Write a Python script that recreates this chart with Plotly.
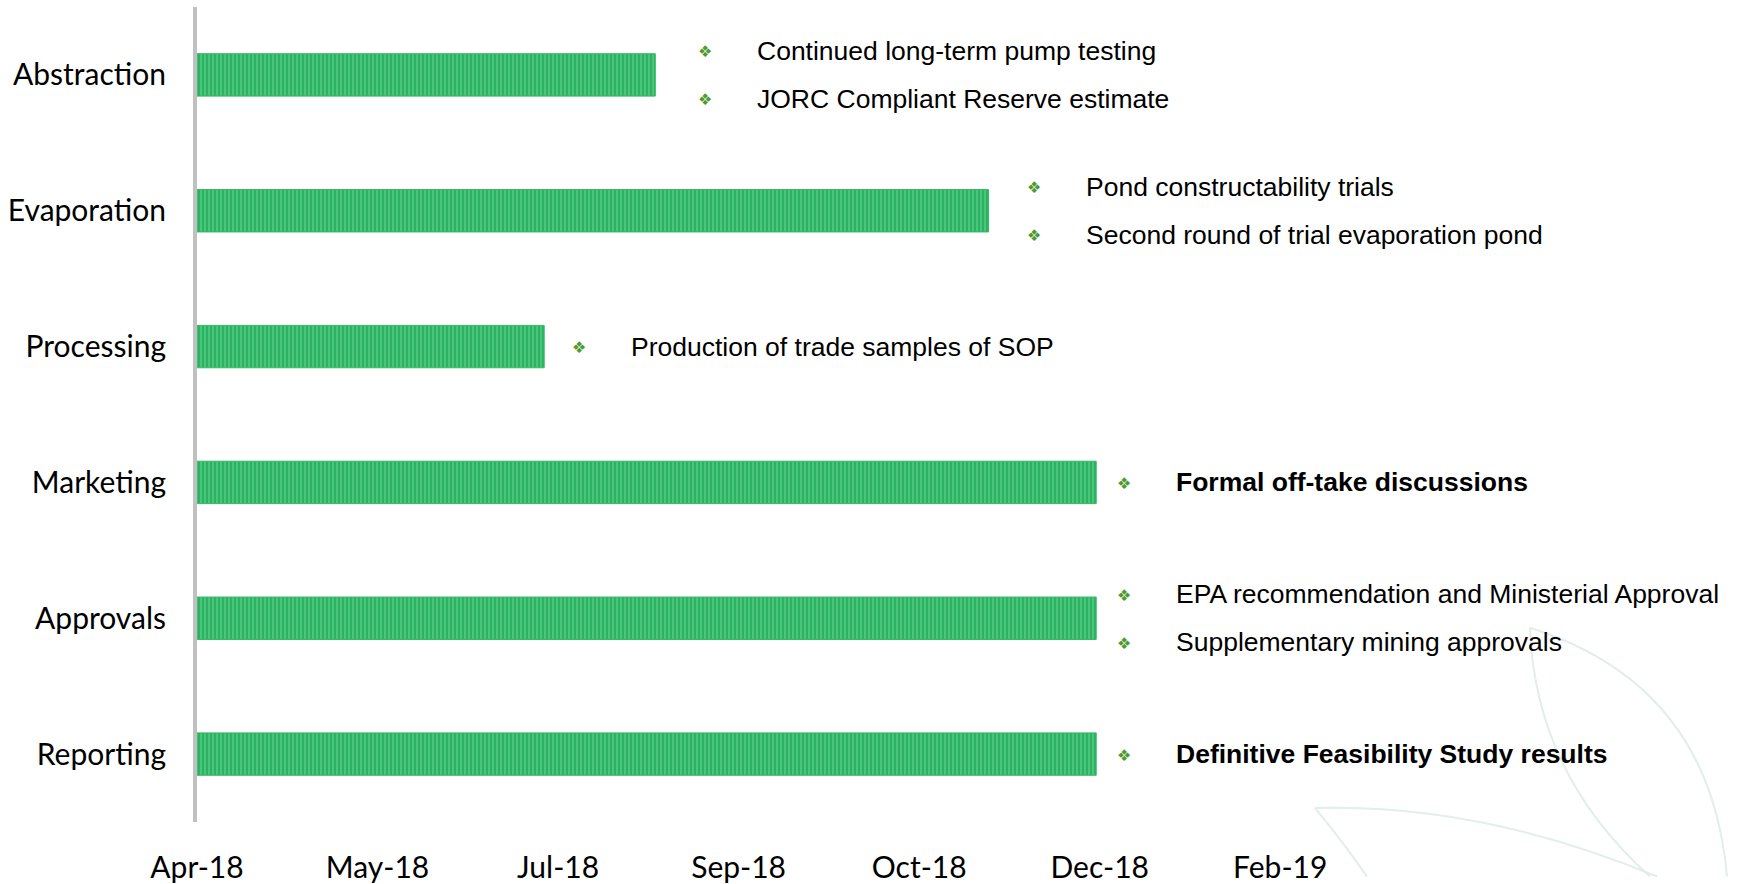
import datetime as dt
import plotly.graph_objects as go

# ---------------- data ----------------
categories = ["Abstraction", "Evaporation", "Processing", "Marketing", "Approvals", "Reporting"]
start_date = "2018-04-01"
end_dates = ["2018-08-11", "2018-11-15", "2018-07-10", "2018-12-16", "2018-12-16", "2018-12-16"]
notes = [
    ["Continued long-term pump testing", "JORC Compliant Reserve estimate"],
    ["Pond constructability trials", "Second round of trial evaporation pond"],
    ["Production of trade samples of SOP"],
    ["Formal off-take discussions"],
    ["EPA recommendation and Ministerial Approval", "Supplementary mining approvals"],
    ["Definitive Feasibility Study results"],
]
notes_bold = [False, False, False, True, False, True]
tick_labels = ["Apr-18", "May-18", "Jul-18", "Sep-18", "Oct-18", "Dec-18", "Feb-19"]
tick_step_days = 52

# ---------------- layout params ----------------
W, H = 1742, 884
L, R, T, B = 197, 0, 7, 55
PW, PH = W - L - R, H - T - B
px_per_day = 3.466
note_text_gap = [100, 95, 85, 78, 78, 78]   # px from bar end to text start
bullet_back = 50                            # px from text start back to bullet centre
line_offset = 24

s = dt.date.fromisoformat(start_date)
durations_ms = [((dt.date.fromisoformat(e) - s).days) * 86400000 for e in end_dates]
tickvals = [(s + dt.timedelta(days=tick_step_days * i)).isoformat() for i in range(len(tick_labels))]
range_end = (s + dt.timedelta(days=PW / px_per_day)).isoformat()

fig = go.Figure()
fig.add_trace(go.Bar(
    y=categories,
    x=durations_ms,
    base=[start_date] * len(categories),
    orientation="h",
    width=0.312,
    marker=dict(
        color="#58cd84",
        line=dict(color="#34b866", width=1),
        pattern=dict(shape="|", size=4, solidity=0.65, fgcolor="#009843"),
    ),
    hoverinfo="skip",
    showlegend=False,
))

annotations = []
for cat, end, lines, bold, gap in zip(categories, end_dates, notes, notes_bold, note_text_gap):
    n = len(lines)
    for i, txt in enumerate(lines):
        ys = 0 if n == 1 else (line_offset if i == 0 else -line_offset)
        label = f"<b>{txt}</b>" if bold else txt
        annotations.append(dict(
            x=end, y=cat, xref="x", yref="y", text=label, showarrow=False,
            xanchor="left", yanchor="middle", xshift=gap, yshift=ys,
            font=dict(family="Liberation Sans, Arial", size=26.5, color="#000000"),
        ))
        annotations.append(dict(
            x=end, y=cat, xref="x", yref="y", text="❖", showarrow=False,
            xanchor="center", yanchor="middle", xshift=gap - bullet_back, yshift=ys - 1,
            font=dict(family="DejaVu Sans", size=16, color="#4f9a2c"),
        ))


def P(px, py):
    return f"{(px - L) / PW:.5f},{1 - (py - T) / PH:.5f}"


leaf_paths = [
    f"M {P(1530,633)} Q {P(1710,690)} {P(1727,884)}",
    f"M {P(1530,633)} Q {P(1535,780)} {P(1650,884)}",
    f"M {P(1315,815)} Q {P(1480,810)} {P(1657,884)}",
    f"M {P(1315,815)} Q {P(1340,845)} {P(1367,884)}",
]
shapes = [dict(type="path", path=p, xref="paper", yref="paper", layer="below",
               line=dict(color="#e2eee7", width=2)) for p in leaf_paths]

fig.update_layout(
    width=W, height=H,
    margin=dict(l=L, r=R, t=T, b=B),
    paper_bgcolor="white", plot_bgcolor="white",
    annotations=annotations,
    shapes=shapes,
    xaxis=dict(
        type="date", range=[start_date, range_end],
        tickvals=tickvals, ticktext=tick_labels,
        showgrid=False, zeroline=False, showline=False, ticks="",
        tickfont=dict(family="Lato, Carlito, Calibri", size=30, color="#000000"),
        ticklabelstandoff=25,
    ),
    yaxis=dict(
        type="category", autorange="reversed",
        showgrid=False, zeroline=False, showline=True,
        linecolor="#c0c0c0", linewidth=4, ticks="",
        tickfont=dict(family="Lato, Carlito, Calibri", size=30, color="#000000"),
        ticklabelstandoff=21,
    ),
)

fig.write_html("out.html", config={"displayModeBar": False},
               post_script="document.body.style.margin='0';")
